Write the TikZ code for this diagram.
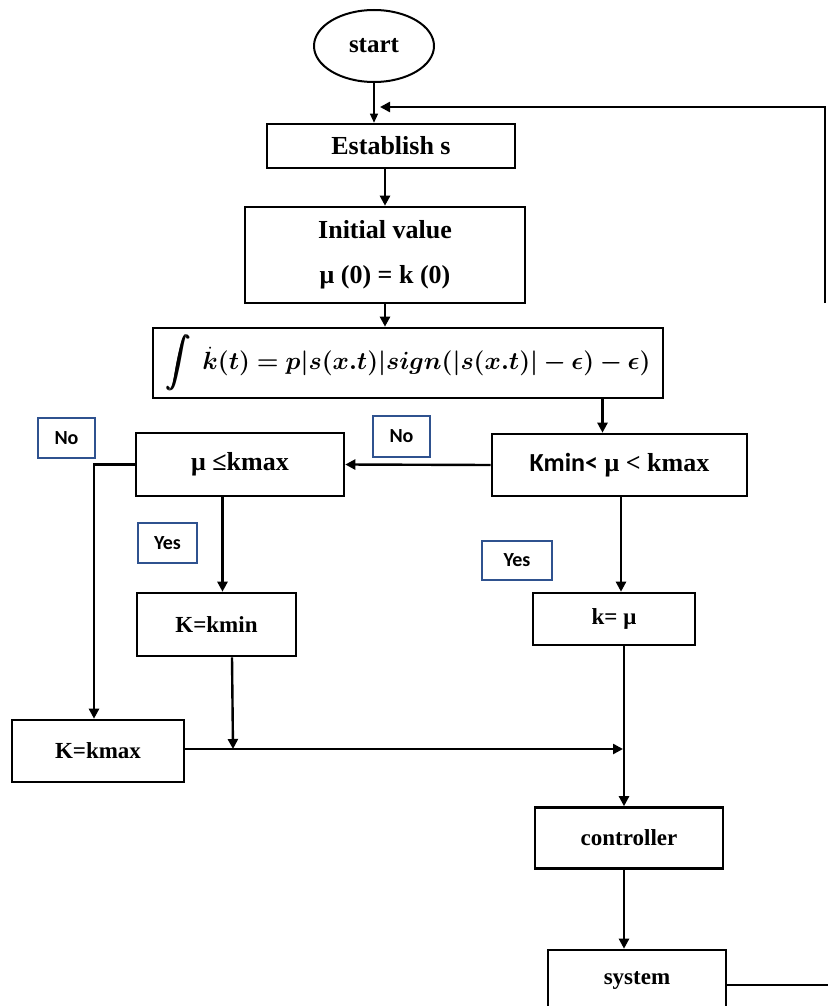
\documentclass[tikz,border=0pt]{standalone}
\usepackage{fontspec}
\setmainfont{Liberation Serif}
\newfontfamily\tagfont{Carlito}
\usepackage{amsmath, bm}
\usetikzlibrary{shapes, arrows.meta, positioning, calc}
\definecolor{tagblue}{RGB}{47, 82, 143}
\newcommand{\adaptlaw}{$\displaystyle\bm{\int}\;\bm{\dot{k}(t) = p\lvert s(x.t)\rvert sign(\lvert s(x.t)\rvert - \epsilon) - \epsilon)}$}

\begin{document}
\begin{tikzpicture}[x=1pt, y=-1pt,
  box/.style={draw, line width=2.6pt, rectangle, inner sep=0pt, font=\fontsize{23}{27}\selectfont\bfseries},
  bigbox/.style={box, font=\fontsize{26}{45}\selectfont\bfseries},
  tag/.style={draw=tagblue, line width=1.2pt, inner sep=0pt, font=\fontsize{20}{22}\selectfont\tagfont\bfseries},
  flow/.style={line width=2.4pt, -{Triangle[length=10pt, width=10pt]}},
  line/.style={line width=2.4pt}]
  \useasboundingbox (0,0) rectangle (827,1006);

  % Top of the chart
  \node[draw, ellipse, line width=2pt, inner sep=0pt, minimum width=120, minimum height=72, font=\fontsize{25}{28}\selectfont\bfseries] (start) at (374,46) {start};
  \node[bigbox, minimum width=248, minimum height=44] (estab) at (391,146) {Establish s};
  \node[bigbox, minimum width=280, minimum height=96, align=center] (init) at (385,255) {Initial value\\μ (0) = k (0)};
  \node[box, minimum width=510, minimum height=70, font=\fontsize{23}{27}\selectfont] (integ) at (408,363) {\adaptlaw};

  % Decisions
  \node[bigbox, minimum width=255, minimum height=62] (range) at (619.5,465) {{\tagfont Kmin<} μ < kmax};
  \node[bigbox, minimum width=208, minimum height=63] (mucheck) at (240,464.5) {μ ≤kmax};

  % Gain cases
  \node[box, minimum width=162, minimum height=52] (kmu) at (614,619) {k= μ};
  \node[box, minimum width=159, minimum height=63] (kmin) at (216.5,624.5) {K=kmin};
  \node[box, minimum width=172, minimum height=62] (kmax) at (98,751) {K=kmax};

  % Loop
  \node[box, minimum width=188, minimum height=61] (ctrl) at (629,838) {controller};
  \node[box, minimum width=178, minimum height=60] (sys) at (637,980) {system};

  % Yes / No tags
  \node[tag, minimum width=57, minimum height=40] (noL) at (66.5,438) {No};
  \node[tag, minimum width=57, minimum height=41] (noR) at (401.5,436.5) {No};
  \node[tag, minimum width=59, minimum height=40] (yesL) at (167.5,543) {Yes};
  \node[tag, minimum width=70, minimum height=39] (yesR) at (517,560.5) {Yes};

  % Connectors
  \draw[line width=1.2pt, -{Triangle[length=9pt, width=8pt]}] (start.south) -- (start.south |- estab.north);
  \coordinate (fbtop) at (825,107);
  \coordinate (fbend) at (825,303);
  \coordinate (fbin) at (380,107);
  \draw[flow] (fbend) -- (fbtop) -- (fbin);
  \coordinate (fbout) at (828,985);
  \draw[line] (sys.east |- fbout) -- (fbout);

  \draw[flow] (init.north |- estab.south) -- (init.north);
  \draw[flow] (init.south) -- (init.south |- integ.north);
  \draw[flow] ([xshift=-17pt]range.north |- integ.south) -- ([xshift=-17pt]range.north);
  \draw[flow] (range.west) -- (mucheck.east);
  \draw[flow] (mucheck.west) -| ([xshift=-4pt]kmax.north);
  \draw[flow] ([xshift=6pt]kmin.north |- mucheck.south) -- ([xshift=6pt]kmin.north);
  \draw[flow] ([xshift=7pt]kmu.north |- range.south) -- ([xshift=7pt]kmu.north);

  \coordinate (merge) at (623,749);
  \coordinate (join) at (233,749);
  \draw[flow] ([xshift=15.5pt]kmin.south) -- (join);
  \draw[flow] (kmax.east |- merge) -- (merge);
  \draw[flow] ([xshift=10pt]kmu.south) -- ([xshift=10pt]kmu.south |- ctrl.north);
  \draw[flow] ([xshift=-5pt]ctrl.south) -- ([xshift=-5pt]ctrl.south |- sys.north);
\end{tikzpicture}
\end{document}
